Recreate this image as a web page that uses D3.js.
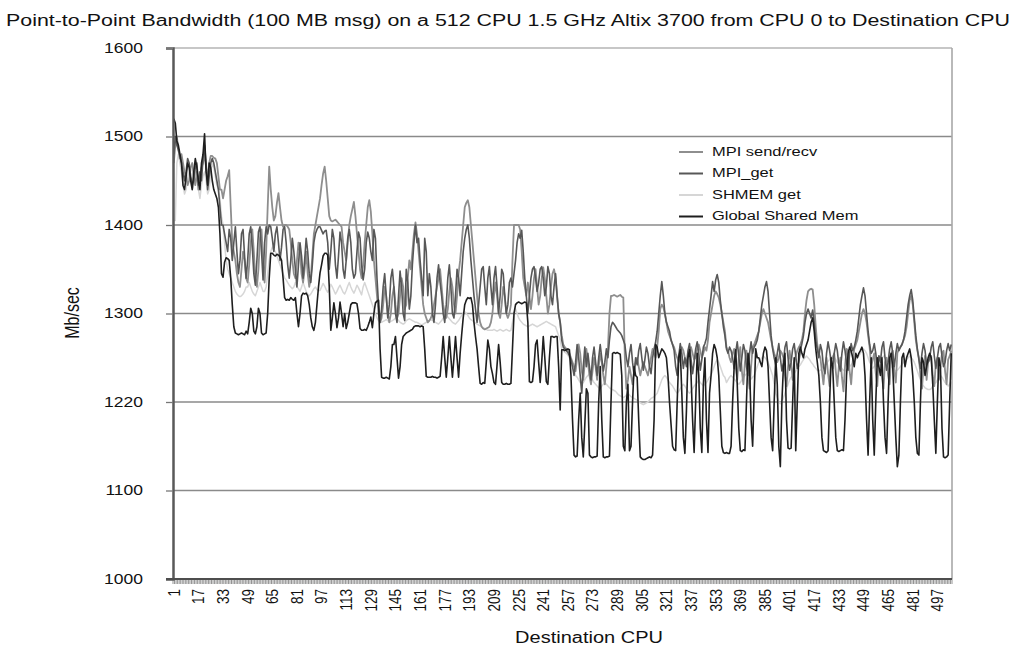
<!DOCTYPE html>
<html>
<head>
<meta charset="utf-8">
<script src="https://cdnjs.cloudflare.com/ajax/libs/d3/7.8.5/d3.min.js"></script>
<style>
body { margin: 0; background: #fff; }
svg text { font-family: "Liberation Sans", Arial, sans-serif; fill: #111; }
</style>
</head>
<body>
<svg width="1016" height="650"></svg>
<script>
// chart values
var cpus = d3.range(1, 507);
var xTickValues = [1, 17, 33, 49, 65, 81, 97, 113, 129, 145, 161, 177, 193, 209, 225, 241,
    257, 273, 289, 305, 321, 337, 353, 369, 385, 401, 417, 433, 449, 465, 481, 497];
var yTickValues = [1000, 1100, 1200, 1300, 1400, 1500, 1600];
var yTickLabels = ["1000", "1100", "1220", "1300", "1400", "1500", "1600"];
var seriesNames = ["MPI send/recv", "MPI_get", "SHMEM get", "Global Shared Mem"];

var mpiSendRecv = [
1470,1490,1500,1485,1475,1480,1470,1460,1455,1445,1450,1465,1470,1455,1445,1460,
1440,1455,1465,1470,1480,1465,1450,1470,1478,1478,1476,1475,1470,1455,1440,1440,
1430,1440,1450,1455,1462,1420,1380,1370,1360,1345,1335,1330,1350,1370,1360,1340,
1335,1355,1380,1395,1370,1340,1330,1350,1385,1395,1360,1335,1370,1420,1466,
1440,1420,1405,1410,1425,1436,1420,1405,1398,1400,1400,1398,1395,1380,1360,1345,
1340,1360,1380,1370,1345,1335,1350,1370,1345,1330,1340,1365,1390,1400,1410,1420,
1430,1445,1458,1466,1450,1430,1410,1405,1404,1405,1406,1404,1402,1400,1398,1380,
1370,1360,1380,1400,1410,1418,1426,1410,1390,1370,1350,1340,1355,1380,1400,1420,
1428,1415,1390,1360,1340,1320,1300,1290,1295,1310,1330,1320,1300,1290,1300,1320,
1330,1310,1295,1300,1320,1340,1330,1305,1310,1340,1360,1350,1370,1390,1403,
1390,1370,1350,1330,1310,1300,1295,1290,1292,1295,1300,1310,1320,1330,1340,1350,
1330,1310,1300,1295,1305,1325,1340,1330,1310,1300,1320,1345,1360,1380,1400,1420,
1425,1428,1420,1400,1380,1360,1340,1320,1300,1290,1285,1283,1282,1283,1284,1285,
1290,1300,1320,1335,1320,1300,1295,1310,1330,1320,1300,1295,1300,1310,1360,1400,
1400,1400,1400,1395,1370,1340,1330,1320,1335,1320,1305,1320,1340,1350,1330,1310,
1320,1340,1352,1340,1320,1300,1310,1330,1345,1350,1340,1320,1300,1290,1275,
1265,1262,1260,1258,1255,1250,1245,1240,1235,1250,1265,1255,1235,1225,1245,1260,
1245,1230,1220,1235,1250,1240,1225,1240,1255,1245,1230,1220,1240,1260,1300,1320,
1320,1321,1320,1319,1320,1321,1319,1318,1250,1215,1225,1240,1230,1220,1235,1245,
1250,1240,1230,1238,1245,1240,1235,1230,1240,1250,1260,1255,1250,1262,1280,1305,
1310,1307,1300,1290,1280,1275,1270,1265,1262,1255,1250,1245,1255,1262,1258,1250,
1245,1250,1258,1262,1255,1248,1250,1260,1265,1258,1250,1255,1262,1258,1270,1290,
1300,1310,1320,1325,1322,1318,1310,1300,1290,1280,1262,1258,1250,1245,1255,
1260,1240,1225,1250,1262,1235,1220,1245,1258,1230,1215,1240,1262,1265,1270,1275,
1280,1290,1300,1305,1300,1295,1290,1280,1270,1262,1255,1250,1245,1250,1258,1255,
1250,1230,1218,1240,1258,1245,1225,1245,1252,1258,1262,1265,1270,1280,1300,1315,
1325,1327,1328,1327,1310,1285,1265,1255,1250,1235,1220,1240,1250,1232,1218,1248,
1250,1255,1235,1218,1240,1250,1228,1212,1240,1260,1258,1235,1220,1245,1260,1265,
1270,1280,1290,1300,1305,1300,1290,1275,1262,1240,1248,1255,1232,1218,1252,
1250,1228,1215,1245,1250,1230,1220,1255,1258,1235,1222,1255,1260,1262,1265,1270,
1275,1285,1300,1315,1320,1310,1290,1270,1258,1250,1230,1215,1240,1252,1225,1245,
1248,1252,1230,1218,1245,1250,1225,1240,1255,1258,1235,1220,1248,1252,1258
];

var mpiGet = [
1480,1500,1490,1485,1478,1470,1460,1450,1460,1475,1470,1455,1445,1450,1465,1470,
1445,1460,1450,1475,1490,1470,1440,1455,1470,1475,1470,1460,1450,1440,1420,1400,
1400,1390,1380,1370,1395,1385,1360,1380,1398,1370,1345,1360,1390,1395,1365,1340,
1360,1390,1398,1375,1345,1332,1360,1392,1398,1370,1338,1380,1398,1390,1400,
1398,1385,1370,1390,1398,1380,1360,1375,1395,1398,1380,1355,1340,1360,1385,1370,
1350,1330,1355,1380,1365,1340,1360,1385,1370,1345,1335,1355,1380,1390,1395,1398,
1398,1394,1390,1393,1394,1380,1350,1370,1395,1385,1355,1340,1365,1392,1380,1350,
1340,1360,1385,1395,1380,1350,1340,1345,1370,1392,1385,1355,1338,1350,1380,1392,
1385,1370,1360,1395,1385,1340,1310,1290,1305,1330,1345,1320,1295,1310,1340,1350,
1330,1300,1290,1320,1348,1330,1300,1292,1350,1335,1305,1320,1355,1380,1400,
1380,1385,1360,1340,1320,1385,1370,1320,1345,1330,1300,1290,1310,1340,1355,1335,
1320,1300,1290,1310,1340,1355,1330,1300,1295,1320,1350,1340,1320,1345,1370,1385,
1395,1400,1385,1360,1340,1320,1305,1290,1310,1330,1350,1353,1330,1310,1340,1353,
1330,1310,1340,1353,1330,1300,1320,1350,1345,1320,1300,1310,1335,1340,1330,1345,
1360,1380,1390,1385,1394,1370,1340,1320,1300,1320,1340,1350,1353,1340,1325,1335,
1350,1353,1340,1320,1330,1353,1345,1320,1310,1330,1345,1320,1300,1290,1270,
1262,1260,1258,1256,1252,1248,1240,1230,1245,1265,1250,1230,1210,1240,1262,1240,
1255,1240,1225,1250,1262,1245,1230,1250,1265,1250,1235,1245,1260,1250,1270,1285,
1290,1288,1285,1282,1280,1278,1275,1270,1265,1250,1240,1255,1265,1245,1230,1250,
1242,1258,1266,1250,1236,1248,1262,1255,1240,1232,1250,1260,1268,1280,1300,1320,
1336,1320,1300,1290,1285,1280,1270,1265,1258,1240,1230,1252,1266,1255,1238,1250,
1240,1258,1266,1248,1232,1245,1260,1268,1255,1236,1248,1262,1266,1272,1290,1305,
1320,1336,1325,1338,1344,1335,1315,1300,1285,1275,1260,1255,1262,1258,1250,
1238,1256,1268,1252,1235,1250,1265,1258,1240,1230,1255,1268,1255,1262,1265,1270,
1280,1295,1310,1320,1330,1336,1325,1300,1275,1260,1250,1242,1255,1266,1250,1235,
1245,1262,1268,1250,1236,1245,1260,1266,1252,1238,1245,1258,1266,1275,1290,1300,
1305,1300,1295,1304,1290,1270,1260,1250,1265,1258,1240,1232,1255,1268,1258,1245,
1238,1255,1266,1258,1242,1235,1255,1268,1258,1244,1236,1255,1266,1258,1262,1270,
1280,1295,1310,1320,1329,1320,1300,1280,1265,1255,1258,1266,1255,1240,1252,
1245,1262,1268,1250,1236,1245,1260,1268,1255,1240,1255,1266,1258,1262,1265,1270,
1280,1295,1310,1320,1327,1315,1295,1275,1260,1248,1238,1255,1266,1258,1242,1245,
1250,1262,1268,1252,1238,1250,1262,1266,1252,1240,1245,1258,1266,1258,1265
];

var shmemGet = [
1405,1405,1470,1480,1470,1460,1445,1435,1440,1455,1460,1450,1440,1445,1450,1455,
1440,1430,1445,1455,1460,1450,1435,1440,1460,1470,1465,1455,1445,1440,1430,1410,
1400,1380,1360,1350,1345,1340,1335,1330,1325,1322,1320,1319,1320,1322,1325,1330,
1330,1335,1330,1325,1322,1320,1325,1330,1335,1330,1325,1325,1330,1345,1360,
1370,1375,1372,1370,1365,1360,1355,1350,1345,1340,1338,1335,1332,1330,1328,1330,
1335,1330,1328,1325,1330,1335,1330,1325,1322,1320,1322,1325,1328,1330,1327,1326,
1326,1330,1334,1331,1327,1324,1328,1333,1330,1326,1322,1325,1329,1332,1328,1324,
1322,1326,1331,1335,1330,1326,1323,1327,1332,1329,1325,1321,1330,1335,1330,1325,
1320,1315,1310,1305,1300,1295,1292,1290,1290,1291,1292,1293,1292,1290,1291,1292,
1293,1295,1294,1292,1290,1289,1288,1289,1292,1293,1294,1293,1292,1291,1290,
1290,1289,1288,1287,1288,1289,1290,1291,1292,1293,1292,1291,1290,1289,1288,1290,
1292,1295,1297,1298,1296,1294,1292,1290,1289,1288,1290,1292,1295,1298,1300,1302,
1300,1298,1295,1293,1292,1290,1289,1288,1287,1286,1285,1284,1283,1282,1281,1281,
1281,1281,1282,1281,1280,1281,1282,1281,1280,1281,1282,1281,1280,1281,1290,1300,
1305,1300,1295,1292,1290,1288,1287,1286,1285,1286,1287,1288,1287,1286,1285,1286,
1287,1288,1289,1290,1291,1290,1289,1288,1287,1286,1285,1280,1275,1270,1260,
1258,1256,1255,1253,1250,1245,1240,1235,1230,1228,1225,1222,1220,1222,1225,1228,
1230,1232,1228,1225,1222,1220,1218,1216,1215,1218,1220,1222,1220,1218,1216,1215,
1214,1213,1212,1210,1208,1207,1206,1205,1206,1208,1210,1208,1206,1205,1204,1203,
1202,1200,1199,1198,1197,1198,1199,1200,1202,1204,1205,1206,1208,1210,1215,1220,
1225,1228,1230,1228,1225,1222,1220,1218,1215,1212,1210,1212,1215,1218,1220,1218,
1215,1212,1210,1212,1215,1218,1220,1222,1225,1222,1220,1218,1220,1222,1225,1228,
1230,1235,1240,1245,1248,1245,1240,1235,1230,1228,1222,1225,1228,1230,1228,
1226,1224,1222,1220,1222,1225,1228,1230,1232,1230,1228,1226,1228,1230,1235,1240,
1245,1248,1250,1252,1250,1248,1245,1240,1235,1230,1220,1210,1205,1200,1198,1200,
1205,1210,1215,1220,1225,1228,1230,1232,1235,1238,1240,1242,1245,1248,1250,1252,
1250,1248,1245,1243,1240,1238,1236,1235,1236,1238,1240,1242,1244,1246,1248,1250,
1252,1250,1248,1245,1243,1240,1238,1236,1235,1236,1238,1240,1242,1244,1246,1248,
1250,1252,1255,1258,1260,1258,1255,1250,1245,1242,1238,1240,1242,1244,1246,
1248,1250,1252,1250,1248,1245,1242,1240,1238,1236,1235,1236,1238,1240,1242,1245,
1246,1248,1250,1252,1250,1248,1245,1240,1235,1230,1225,1220,1218,1216,1215,1214,
1214,1215,1218,1220,1222,1225,1228,1230,1228,1225,1222,1220,1218,1220,1225
];

var globalSharedMem = [
1520,1515,1495,1490,1480,1470,1445,1440,1455,1470,1465,1450,1440,1460,1475,1465,
1450,1440,1470,1480,1503,1460,1445,1470,1465,1450,1440,1435,1430,1420,1390,1345,
1341,1358,1363,1362,1360,1340,1310,1285,1278,1277,1276,1277,1278,1277,1276,1280,
1277,1290,1306,1300,1280,1277,1285,1306,1300,1278,1276,1277,1278,1300,1340,
1368,1368,1366,1365,1367,1366,1364,1360,1340,1318,1315,1316,1315,1318,1316,1315,
1318,1300,1285,1300,1320,1323,1322,1323,1320,1310,1295,1285,1281,1290,1310,1330,
1346,1355,1365,1368,1368,1366,1330,1281,1295,1312,1300,1284,1295,1313,1300,1285,
1300,1283,1290,1300,1310,1312,1312,1312,1311,1300,1283,1281,1281,1282,1281,1285,
1290,1296,1284,1300,1312,1314,1315,1260,1228,1227,1227,1228,1227,1226,1240,1265,
1265,1274,1250,1227,1240,1265,1274,1276,1278,1279,1280,1281,1282,1285,1286,
1286,1286,1285,1286,1285,1260,1229,1228,1228,1228,1229,1228,1228,1227,1228,1229,
1250,1274,1250,1228,1250,1274,1250,1228,1250,1274,1250,1228,1255,1276,1295,1310,
1315,1318,1317,1318,1310,1290,1274,1260,1240,1221,1220,1222,1221,1245,1270,1260,
1240,1232,1222,1220,1242,1265,1245,1222,1220,1220,1221,1220,1220,1221,1260,1300,
1310,1312,1313,1312,1311,1312,1313,1312,1290,1223,1222,1223,1240,1265,1270,1245,
1222,1245,1274,1250,1223,1220,1250,1274,1274,1273,1274,1274,1240,1191,1259,
1259,1258,1259,1260,1259,1230,1180,1140,1138,1139,1180,1210,1160,1138,1175,1215,
1210,1140,1138,1137,1138,1138,1139,1200,1240,1180,1138,1137,1138,1138,1139,1200,
1255,1256,1255,1256,1255,1254,1230,1150,1145,1200,1220,1145,1150,1200,1240,1230,
1228,1180,1138,1136,1135,1135,1136,1137,1138,1137,1140,1180,1265,1262,1250,1255,
1260,1258,1255,1250,1230,1200,1175,1150,1146,1145,1200,1250,1259,1210,1160,1142,
1190,1250,1259,1230,1180,1143,1200,1255,1230,1170,1143,1220,1250,1180,1143,1210,
1230,1255,1265,1260,1250,1230,1190,1150,1143,1142,1143,1142,1142,1150,1200,
1240,1259,1220,1170,1145,1144,1146,1145,1200,1255,1240,1180,1150,1210,1260,1250,
1250,1245,1240,1255,1262,1258,1240,1200,1160,1145,1200,1250,1220,1150,1127,1200,
1240,1255,1180,1148,1147,1148,1200,1250,1145,1200,1255,1262,1255,1250,1260,1265,
1270,1280,1290,1295,1280,1260,1245,1230,1200,1160,1145,1144,1143,1145,1200,1250,
1240,1200,1160,1145,1144,1145,1146,1145,1180,1230,1255,1262,1258,1250,1240,1255,
1250,1255,1258,1262,1255,1230,1180,1140,1200,1250,1180,1140,1200,1250,1240,
1230,1250,1200,1160,1142,1200,1250,1255,1240,1200,1160,1127,1140,1200,1250,1255,
1240,1250,1255,1260,1250,1230,1200,1160,1142,1140,1200,1250,1245,1230,1240,1250,
1255,1250,1220,1180,1142,1200,1250,1240,1170,1138,1137,1138,1140,1200,1255
];

var seriesValues = [mpiSendRecv, mpiGet, shmemGet, globalSharedMem];
var seriesColors = ["#8e8e8e", "#575757", "#d6d6d6", "#1e1e1e"];
var seriesWidths = [1.8, 1.6, 1.5, 1.6];
var drawOrder = [2, 0, 1, 3];

seriesValues.forEach(function(s, k) {
    if (s.length !== cpus.length) throw new Error(seriesNames[k] + " has " + s.length + " values");
});

var svg = d3.select("svg");
var plotLeft = 173, plotRight = 952, plotTop = 48, plotBottom = 579;

var x = d3.scaleBand().domain(cpus).range([plotLeft, plotRight]);
var y = d3.scaleLinear().domain([1000, 1600]).range([plotBottom, plotTop]);
var cx = function(d) { return x(d) + x.bandwidth() / 2; };

// title
svg.append("text")
    .attr("x", 508).attr("y", 26)
    .attr("text-anchor", "middle")
    .attr("font-size", 16)
    .attr("textLength", 1004)
    .attr("lengthAdjust", "spacingAndGlyphs")
    .text("Point-to-Point Bandwidth (100 MB msg) on a 512 CPU 1.5 GHz Altix 3700 from CPU 0 to Destination CPU");

// horizontal grid lines
svg.append("g").selectAll("line")
    .data(yTickValues.slice(1))
    .enter().append("line")
    .attr("x1", plotLeft).attr("x2", plotRight)
    .attr("y1", function(d) { return y(d); })
    .attr("y2", function(d) { return y(d); })
    .attr("stroke", function(d) { return d === 1600 ? "#b4b4b4" : "#8a8a8a"; })
    .attr("stroke-width", 1.6);

// right border
svg.append("line")
    .attr("x1", plotRight).attr("x2", plotRight).attr("y1", plotTop).attr("y2", plotBottom)
    .attr("stroke", "#a8a8a8").attr("stroke-width", 1.6);

// series lines
var line = d3.line()
    .x(function(d, i) { return cx(cpus[i]); })
    .y(function(d) { return y(d); });

svg.append("g").selectAll("path")
    .data(drawOrder)
    .enter().append("path")
    .attr("d", function(k) { return line(seriesValues[k]); })
    .attr("fill", "none")
    .attr("stroke", function(k) { return seriesColors[k]; })
    .attr("stroke-width", function(k) { return seriesWidths[k]; })
    .attr("stroke-linejoin", "round");

// y axis
var yAxis = svg.append("g")
    .attr("transform", "translate(" + plotLeft + ",0)")
    .call(d3.axisLeft(y).tickValues(yTickValues)
        .tickFormat(function(d, i) { return yTickLabels[i]; })
        .tickSize(7).tickPadding(0));
yAxis.select(".domain").attr("stroke", "#595959").attr("stroke-width", 2.5);
yAxis.selectAll(".tick line").attr("stroke", "#777").attr("stroke-width", 1.3);
yAxis.selectAll(".tick text")
    .attr("x", -24)
    .attr("transform", "scale(1.25,1)")
    .attr("font-size", 14)
    .attr("fill", "#111");

// x axis: baseline, one tick per category, rotated labels
svg.append("g").selectAll("line")
    .data(cpus.concat([null]))
    .enter().append("line")
    .attr("x1", function(d) { return d === null ? plotRight : x(d); })
    .attr("x2", function(d) { return d === null ? plotRight : x(d); })
    .attr("y1", plotBottom).attr("y2", plotBottom + 5)
    .attr("stroke", "#666").attr("stroke-width", 0.7);

svg.append("line")
    .attr("x1", plotLeft - 7).attr("x2", plotRight).attr("y1", plotBottom).attr("y2", plotBottom)
    .attr("stroke", "#4d4d4d").attr("stroke-width", 1.8);

svg.append("g").selectAll("text")
    .data(xTickValues)
    .enter().append("text")
    .attr("transform", function(d) { return "translate(" + cx(d) + ",589) scale(1.25,1) rotate(-90)"; })
    .attr("text-anchor", "end")
    .attr("dy", "0.35em")
    .attr("font-size", 13.5)
    .text(function(d) { return d; });

// axis titles
svg.append("text")
    .attr("transform", "translate(589,643) scale(1.25,1)")
    .attr("text-anchor", "middle")
    .attr("font-size", 16)
    .text("Destination CPU");

svg.append("text")
    .attr("transform", "translate(79,313) scale(1.25,1) rotate(-90)")
    .attr("text-anchor", "middle")
    .attr("font-size", 16)
    .text("Mb/sec");

// legend
var legend = svg.append("g").selectAll("g")
    .data(seriesNames)
    .enter().append("g")
    .attr("transform", function(d, i) { return "translate(679," + (151 + i * 21.5) + ")"; });
legend.append("line")
    .attr("x1", 0).attr("x2", 24).attr("y1", 1).attr("y2", 1)
    .attr("stroke", function(d, i) { return seriesColors[i]; })
    .attr("stroke-width", 2);
legend.append("text")
    .attr("transform", "translate(33,0) scale(1.22,1)")
    .attr("dy", "0.35em")
    .attr("font-size", 13.5)
    .text(function(d) { return d; });
</script>
</body>
</html>
